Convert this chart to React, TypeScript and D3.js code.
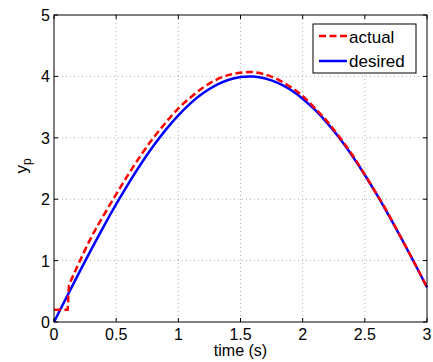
import React from "react";
import * as d3 from "d3";

const timeDesired = [0, 0.1, 0.2, 0.3, 0.4, 0.5, 0.6, 0.7, 0.8, 0.9, 1.0, 1.1, 1.2, 1.3, 1.4, 1.5, 1.6, 1.7, 1.8, 1.9, 2.0, 2.1, 2.2, 2.3, 2.4, 2.5, 2.6, 2.7, 2.8, 2.9, 3.0];
const desired = [0, 0.399, 0.795, 1.182, 1.558, 1.918, 2.259, 2.577, 2.869, 3.133, 3.366, 3.565, 3.728, 3.854, 3.942, 3.99, 3.998, 3.967, 3.895, 3.786, 3.637, 3.453, 3.234, 2.983, 2.702, 2.394, 2.062, 1.709, 1.34, 0.957, 0.565];

const timeActual = [0, 0.11, 0.12, 0.2, 0.3, 0.4, 0.5, 0.6, 0.7, 0.8, 0.9, 1.0, 1.1, 1.2, 1.3, 1.4, 1.5, 1.6, 1.7, 1.8, 1.9, 2.0, 2.1, 2.2, 2.3, 2.4, 2.5, 2.6, 2.7, 2.8, 2.9, 3.0];
const actual = [0.2, 0.2, 0.6, 0.96, 1.38, 1.74, 2.08, 2.41, 2.72, 3.0, 3.25, 3.48, 3.66, 3.82, 3.94, 4.02, 4.06, 4.07, 4.03, 3.95, 3.83, 3.68, 3.48, 3.26, 3.0, 2.72, 2.4, 2.07, 1.72, 1.34, 0.96, 0.565];

const xTicks = [0, 0.5, 1, 1.5, 2, 2.5, 3];
const yTicks = [0, 1, 2, 3, 4, 5];
const xTickLabels = ["0", "0.5", "1", "1.5", "2", "2.5", "3"];
const yTickLabels = ["0", "1", "2", "3", "4", "5"];
const legendLabels = ["actual", "desired"];

export default function App() {
  const W = 433, H = 362;
  const L = 54, R = 427, T = 15, B = 322;
  const x = d3.scaleLinear().domain([0, 3]).range([L, R]);
  const y = d3.scaleLinear().domain([0, 5]).range([B, T]);
  const font = "'Liberation Sans', Arial, Helvetica, sans-serif";

  const desiredLine = d3.line<number>().x((_, i) => x(timeDesired[i])).y((d) => y(d)).curve(d3.curveNatural)(desired) || "";
  const actualPts = actual.map((v, i) => [timeActual[i], v] as [number, number]);
  const actualLine =
    (d3.line<[number, number]>().x((d) => x(d[0])).y((d) => y(d[1]))(actualPts.slice(0, 3)) || "") +
    (d3.line<[number, number]>().x((d) => x(d[0])).y((d) => y(d[1])).curve(d3.curveNatural)(actualPts.slice(2)) || "").replace(/^M/, "L");

  const tl = 4;
  const dash = "7,3.5";
  return (
    <svg width={W} height={H} style={{ position: "absolute", left: 0, top: 0, background: "#fff" }} fontFamily={font}>
      <rect x={0} y={0} width={W} height={H} fill="#fff" />
      {/* grid */}
      {xTicks.slice(1, -1).map((t) => (
        <line key={"gx" + t} x1={x(t)} x2={x(t)} y1={T} y2={B} stroke="#b0b0b0" strokeWidth={1} strokeDasharray="1,3" />
      ))}
      {yTicks.slice(1, -1).map((t) => (
        <line key={"gy" + t} x1={L} x2={R} y1={y(t)} y2={y(t)} stroke="#b0b0b0" strokeWidth={1} strokeDasharray="1,3" />
      ))}
      {/* curves */}
      <path d={desiredLine} fill="none" stroke="#0000ff" strokeWidth={2.5} />
      <path d={actualLine} fill="none" stroke="#ff0000" strokeWidth={2.5} strokeDasharray={dash} />
      {/* box */}
      <rect x={L} y={T} width={R - L} height={B - T} fill="none" stroke="#000" strokeWidth={1} />
      {/* ticks */}
      {xTicks.map((t) => (
        <g key={"tx" + t}>
          <line x1={x(t)} x2={x(t)} y1={B} y2={B - tl} stroke="#000" />
          <line x1={x(t)} x2={x(t)} y1={T} y2={T + tl} stroke="#000" />
        </g>
      ))}
      {yTicks.map((t) => (
        <g key={"ty" + t}>
          <line x1={L} x2={L + tl} y1={y(t)} y2={y(t)} stroke="#000" />
          <line x1={R} x2={R - tl} y1={y(t)} y2={y(t)} stroke="#000" />
        </g>
      ))}
      {/* tick labels */}
      {xTicks.map((t, i) => (
        <text key={"lx" + t} x={x(t)} y={B + 18} textAnchor="middle" fontSize={16} fill="#000">
          {xTickLabels[i]}
        </text>
      ))}
      {yTicks.map((t, i) => (
        <text key={"ly" + t} x={L - 4} y={y(t) + 6} textAnchor="end" fontSize={16} fill="#000">
          {yTickLabels[i]}
        </text>
      ))}
      {/* axis labels */}
      <text x={(L + R) / 2} y={356} textAnchor="middle" fontSize={16} fill="#000">time (s)</text>
      <g transform={`translate(27, 166) rotate(-90)`}>
        <text x={0} y={0} textAnchor="middle" fontSize={17} fill="#000">
          y<tspan fontSize={12} dy={4}>p</tspan>
        </text>
      </g>
      {/* legend */}
      <rect x={313} y={24} width={103} height={49} fill="#fff" stroke="#000" strokeWidth={1} />
      <line x1={319} x2={347} y1={36} y2={36} stroke="#ff0000" strokeWidth={2.5} strokeDasharray={dash} />
      <line x1={319} x2={347} y1={61} y2={61} stroke="#0000ff" strokeWidth={2.5} />
      <text x={349} y={43} fontSize={17} fill="#000">{legendLabels[0]}</text>
      <text x={349} y={67} fontSize={17} fill="#000">{legendLabels[1]}</text>
    </svg>
  );
}
